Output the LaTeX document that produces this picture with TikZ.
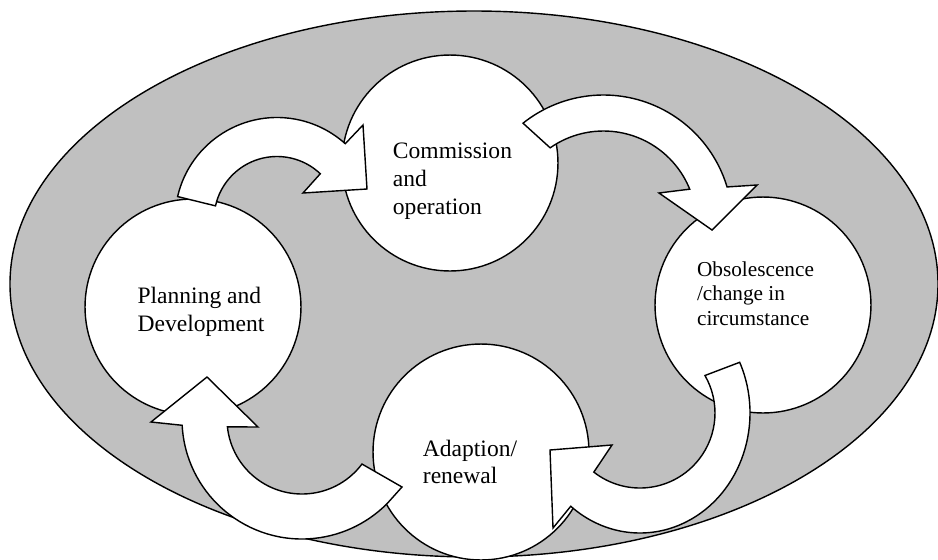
\documentclass[tikz,border=0pt]{standalone}
\usepackage{fontspec}
\setmainfont{Liberation Serif}
\usepackage{xcolor}
\usepackage{tikz}
\usetikzlibrary{calc}

\definecolor{ringgray}{RGB}{192,192,192}

\begin{document}
\begin{tikzpicture}[
    x=0.02cm, y=0.02cm,
    stage/.style={circle, draw=black, fill=white, line width=0.8pt, minimum size=4.32cm, inner sep=0pt},
    stagetext/.style={align=left, inner sep=0pt, font=\fontsize{13.4}{15.8}\selectfont},
    cyclearrow/.style={draw=black, fill=white, line width=0.8pt, line join=miter}
]
\useasboundingbox (0,0) rectangle (938,-559);

% --- Background ellipse ---
\draw[fill=ringgray, line width=0.8pt] (474,-284) ellipse [x radius=464, y radius=273];

% --- Stages ---
\node[stage] (plan) at (193,-307) {};
\node[stage] (comm) at (450,-163) {};
\node[stage] (obso) at (763,-305) {};
\node[stage] (adapt) at (481,-452) {};

% --- Centres of the curved arrows ---
\coordinate (plancomm) at (277,-219.5);
\coordinate (commobso) at (603.5,-224);
\coordinate (obsoadapt) at (640,-413);
\coordinate (adaptplan) at (302,-419);

% Planning -> Commission
\draw[cyclearrow] ($(plancomm)+(167:102)$) arc[start angle=167, end angle=48, radius=102]
    -- (363,-125) -- (367,-189) -- (303,-193)
    -- ($(plancomm)+(46.6:63)$) arc[start angle=46.6, end angle=167.5, radius=63] -- cycle;

% Commission -> Obsolescence
\draw[cyclearrow] ($(commobso)+(128.6:129)$) arc[start angle=128.6, end angle=16.7, radius=129]
    -- (757,-185) -- (712,-230) -- (659,-193)
    -- ($(commobso)+(22:93)$) arc[start angle=22, end angle=125, radius=93] -- cycle;

% Obsolescence -> Adaption
\draw[cyclearrow] ($(obsoadapt)+(25:110 and 120)$) arc[start angle=25, end angle=-129, x radius=110, y radius=120]
    -- (553,-528) -- (550,-450) -- (612,-445)
    -- ($(obsoadapt)+(-128:75)$) arc[start angle=-128, end angle=30, radius=75] -- cycle;

% Adaption -> Planning
\draw[cyclearrow] ($(adaptplan)+(183:120)$) arc[start angle=183, end angle=315.3, radius=120]
    -- (402,-487)
    -- ($(adaptplan)+(-36.9:75)$) arc[start angle=-36.9, end angle=-174, radius=75]
    -- (258,-427) -- (207,-377) -- (151,-422) -- cycle;

% --- Stage labels ---
\node[stagetext] (plantext) at ($(plan)+(8,-4.5)$) {Planning and\\Development};
\node[stagetext] (commtext) at ($(comm)+(2.5,-18)$) {Commission\\and\\operation};
\node[stagetext, font=\fontsize{12.1}{13.9}\selectfont] (obsotext) at ($(obso)+(-7.5,11.5)$) {Obsolescence\\/change in\\circumstance};
\node[stagetext] (adapttext) at ($(adapt)+(-11,-10)$) {Adaption/\\renewal};

\end{tikzpicture}
\end{document}
